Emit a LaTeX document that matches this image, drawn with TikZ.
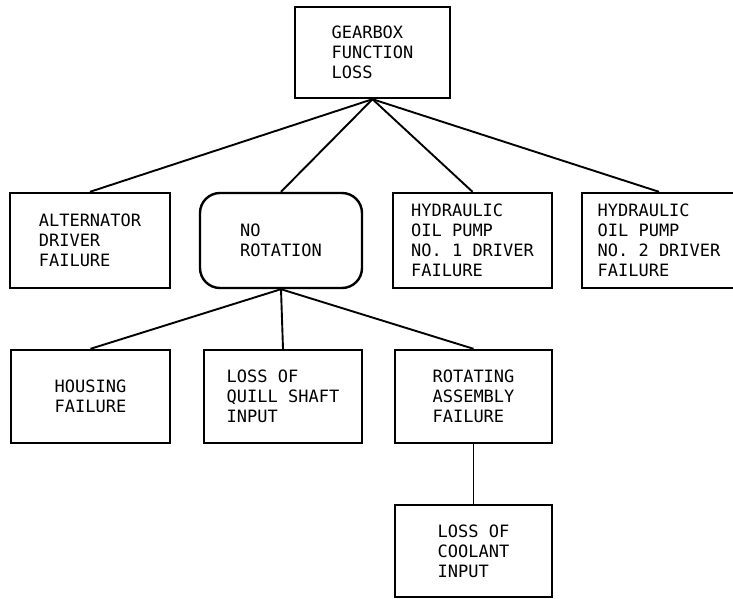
\documentclass[tikz,border=0pt]{standalone}
\usepackage{fontspec}
\setmonofont{DejaVu Sans Mono}
\usetikzlibrary{calc}

\begin{document}
\begin{tikzpicture}[x=1pt,y=-1pt,
    box/.style={draw, line width=2.4pt, align=left, inner sep=0pt,
      font=\ttfamily\fontsize{17}{20}\selectfont},
    link/.style={line width=1.9pt}]
        % 1 unit = 1 px of the 733x599 drawing, y grows downwards
        \useasboundingbox (0,0) rectangle (733,599);

        % Top event
        \node[box, minimum width=155pt, minimum height=91pt] (gear) at (372.5,52.5) {GEARBOX\\FUNCTION\\LOSS};

        % Second level
        \node[box, minimum width=160pt, minimum height=95pt] (alt) at (90,240.5) {ALTERNATOR\\DRIVER\\FAILURE};
        \node[box, minimum width=162pt, minimum height=95pt, rounded corners=20pt] (norot) at (281,240.5) {NO\\ROTATION};
        \node[box, minimum width=159pt, minimum height=95pt] (hydA) at (472.5,240.5) {HYDRAULIC\\OIL PUMP\\NO. 1 DRIVER\\FAILURE};
        % right side of this box runs off the page
        \node[box, minimum width=154pt, minimum height=95pt] (hydB) at (659,240.5) {HYDRAULIC\\OIL PUMP\\NO. 2 DRIVER\\FAILURE};

        % Third level (under NO ROTATION)
        \node[box, minimum width=159pt, minimum height=93pt, align=center] (house) at (90.5,396.5) {HOUSING\\FAILURE};
        \node[box, minimum width=158pt, minimum height=93pt] (quill) at (283,396.5) {LOSS OF\\QUILL SHAFT\\INPUT};
        \node[box, minimum width=157pt, minimum height=93pt] (rotas) at (473.5,396.5) {ROTATING\\ASSEMBLY\\FAILURE};

        % Fourth level
        \node[box, minimum width=157pt, minimum height=92pt] (cool) at (473.5,551) {LOSS OF\\COOLANT\\INPUT};

        % Connectors
        \foreach \n in {alt,norot,hydA,hydB}
            \draw[link] (gear.south) -- (\n.north);
        \foreach \n in {house,quill,rotas}
            \draw[link] (norot.south) -- (\n.north);
        \draw[link] (rotas.south) -- (cool.north);
    \end{tikzpicture}
\end{document}
